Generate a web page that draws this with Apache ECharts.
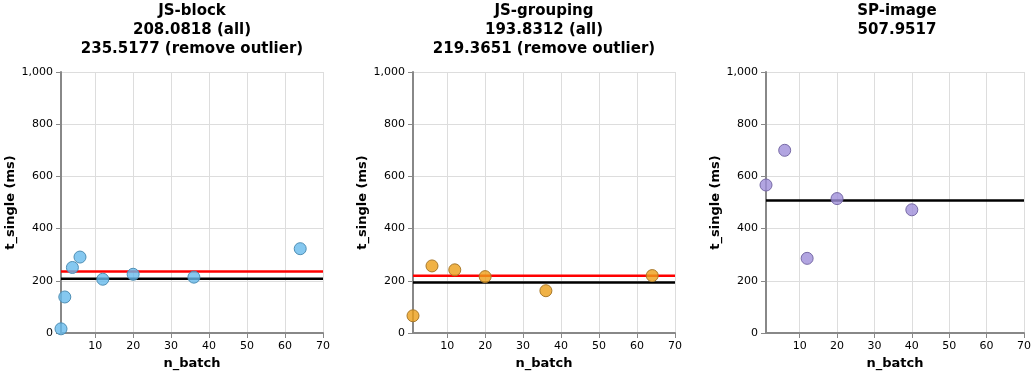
<!DOCTYPE html>
<html>
<head>
<meta charset="utf-8">
<script src="https://cdn.jsdelivr.net/npm/echarts@6/dist/echarts.min.js"></script>
<style>
html,body{margin:0;padding:0;background:#fff;}
#chart{width:1034px;height:381px;}
</style>
</head>
<body>
<div id="chart"></div>
<script>
// ---- data ----
const panelNames = ['JS-block', 'JS-grouping', 'SP-image'];

const blockX = [1, 2, 4, 6, 12, 20, 36, 64];
const blockY = [16, 138, 251, 291, 206, 225, 214, 323];
const blockMeanAll = 208.0818;
const blockMeanTrim = 235.5177;

const groupingX = [1, 6, 12, 20, 36, 64];
const groupingY = [66, 257, 242, 216, 162, 220];
const groupingMeanAll = 193.8312;
const groupingMeanTrim = 219.3651;

const imageX = [1, 6, 12, 20, 40];
const imageY = [567, 700, 286, 515, 472];
const imageMeanAll = 507.9517;

const xTickValues = [10, 20, 30, 40, 50, 60, 70];
const xRange = [1, 70];
const yRange = [0, 1000];
const yStep = 200;

// ---- layout / style ----
const FONT = '"DejaVu Sans", Verdana, sans-serif';
const gridLefts = [61, 413, 766];
const gridW = 262;
const gridTop = 72;
const gridH = 261;

const fills = ['rgba(102,186,236,0.8)', 'rgba(236,159,24,0.8)', 'rgba(159,143,218,0.8)'];
const strokes = ['#4f8fb5', '#a9792a', '#776aa6'];

const panels = [
  {x: blockX, y: blockY, all: blockMeanAll, trim: blockMeanTrim},
  {x: groupingX, y: groupingY, all: groupingMeanAll, trim: groupingMeanTrim},
  {x: imageX, y: imageY, all: imageMeanAll, trim: null}
];

const titles = [], grids = [], xAxes = [], yAxes = [], series = [];

panels.forEach((p, i) => {
  let txt = panelNames[i] + '\n' + p.all.toFixed(4) + (p.trim !== null ? ' (all)' : '');
  if (p.trim !== null) txt += '\n' + p.trim.toFixed(4) + ' (remove outlier)';
  titles.push({
    text: txt,
    left: gridLefts[i] + gridW / 2,
    top: 2,
    padding: 0,
    textAlign: 'center',
    textStyle: {fontFamily: FONT, fontSize: 15, fontWeight: 'bold', color: '#000', lineHeight: 19}
  });
  grids.push({left: gridLefts[i], top: gridTop, width: gridW, height: gridH, containLabel: false});
  xAxes.push({
    type: 'value', gridIndex: i, min: xRange[0], max: xRange[1],
    name: 'n_batch', nameLocation: 'middle', nameGap: 24,
    nameTextStyle: {fontFamily: FONT, fontSize: 13, fontWeight: 'bold', color: '#000'},
    axisLine: {show: true, onZero: false, lineStyle: {color: '#888', width: 2}},
    axisTick: {show: true, length: 5, lineStyle: {color: '#888'}, customValues: xTickValues},
    axisLabel: {fontFamily: FONT, fontSize: 11, color: '#000', margin: 8, customValues: xTickValues},
    splitLine: {show: true, lineStyle: {color: '#ddd', width: 1}}
  });
  yAxes.push({
    type: 'value', gridIndex: i, min: yRange[0], max: yRange[1], interval: yStep,
    name: 't_single (ms)', nameLocation: 'middle', nameGap: 38, nameRotate: 90,
    nameTextStyle: {fontFamily: FONT, fontSize: 13, fontWeight: 'bold', color: '#000'},
    axisLine: {show: true, onZero: false, lineStyle: {color: '#888', width: 2}},
    axisTick: {show: true, length: 5, lineStyle: {color: '#888'}},
    axisLabel: {fontFamily: FONT, fontSize: 11, color: '#000', margin: 8,
      formatter: v => v.toLocaleString('en-US')},
    splitLine: {show: true, lineStyle: {color: '#ddd', width: 1}}
  });
  series.push({
    type: 'line', xAxisIndex: i, yAxisIndex: i, symbol: 'none', silent: true,
    data: [[xRange[0], p.all], [xRange[1], p.all]],
    lineStyle: {color: '#000', width: 2.5}, z: 2
  });
  if (p.trim !== null) {
    series.push({
      type: 'line', xAxisIndex: i, yAxisIndex: i, symbol: 'none', silent: true,
      data: [[xRange[0], p.trim], [xRange[1], p.trim]],
      lineStyle: {color: '#ff0000', width: 2.5}, z: 2
    });
  }
  series.push({
    type: 'scatter', xAxisIndex: i, yAxisIndex: i, symbolSize: 12,
    data: p.x.map((v, k) => [v, p.y[k]]),
    itemStyle: {color: fills[i], borderColor: strokes[i], borderWidth: 1, opacity: 1}, z: 3
  });
});

const chart = echarts.init(document.getElementById('chart'), null, {renderer: 'canvas'});
chart.setOption({
  animation: false,
  backgroundColor: '#fff',
  title: titles,
  grid: grids,
  xAxis: xAxes,
  yAxis: yAxes,
  series: series
});
</script>
</body>
</html>
